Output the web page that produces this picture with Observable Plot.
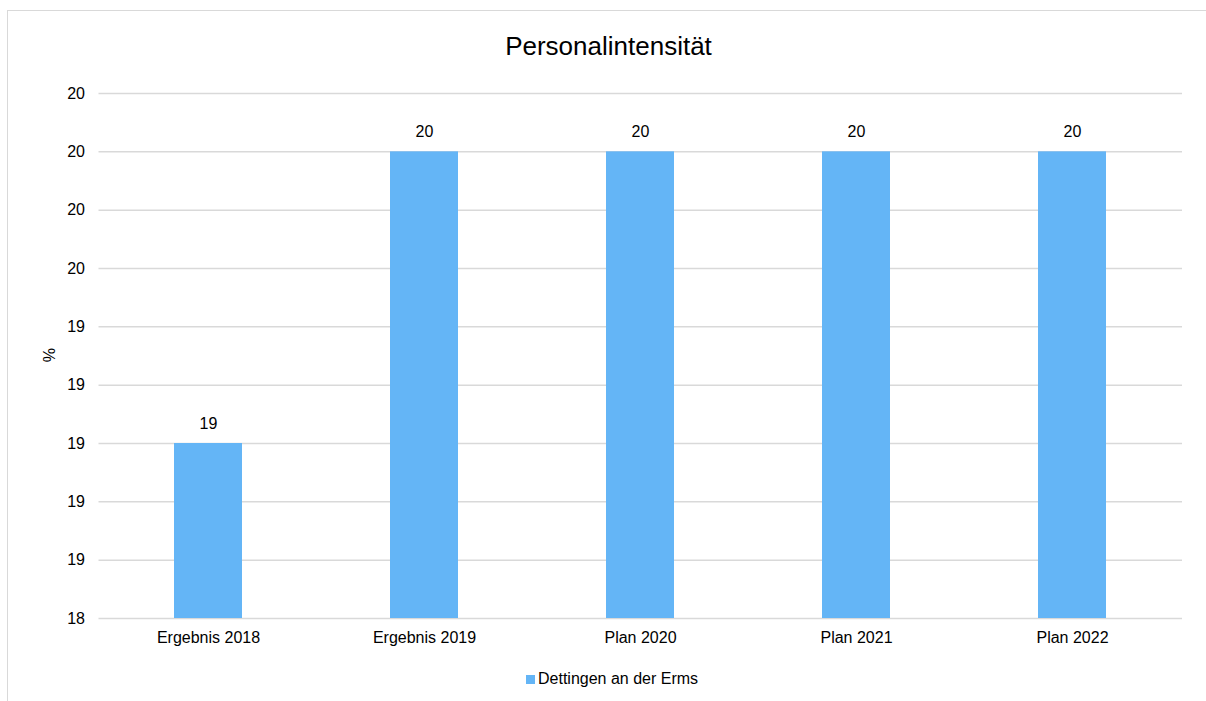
<!DOCTYPE html>
<html>
<head>
<meta charset="utf-8">
<script src="https://cdn.jsdelivr.net/npm/d3@7"></script>
<script src="https://cdn.jsdelivr.net/npm/@observablehq/plot@0.6"></script>
<style>
  html, body { margin: 0; padding: 0; background: #fff; overflow: hidden; }
  #wrap { position: relative; width: 1206px; height: 701px; overflow: hidden; font-family: "Liberation Sans", Arial, sans-serif; color: #000; }
  #hline { position: absolute; left: 7px; top: 10px; width: 1199px; height: 1px; background: #d9d9d9; }
  #vline { position: absolute; left: 7px; top: 10px; width: 1px; height: 691px; background: #d9d9d9; }
  #chart { position: absolute; left: 0; top: 0; }
  #title { position: absolute; left: 0; width: 1217px; top: 33px; text-align: center; font-size: 26px; line-height: 26px; }
  #ylabel { position: absolute; left: 40px; top: 347px; width: 20px; height: 16px; font-size: 16px; line-height: 16px; text-align: center; transform: rotate(-90deg); }
  #legend { position: absolute; top: 671px; left: 526px; height: 16px; font-size: 16px; line-height: 16px; white-space: nowrap; }
  #legend .sw { position: absolute; left: 0; top: 4px; width: 9px; height: 9px; }
  #legend .lt { position: absolute; left: 12px; top: 0; }
</style>
</head>
<body>
<div id="wrap">
  <div id="hline"></div>
  <div id="vline"></div>
  <div id="chart"></div>
  <div id="title"></div>
  <div id="ylabel"></div>
  <div id="legend"><span class="sw"></span><span class="lt"></span></div>
</div>
<script>
const categories = ["Ergebnis 2018", "Ergebnis 2019", "Plan 2020", "Plan 2021", "Plan 2022"];
const values = [19.0, 20.0, 20.0, 20.0, 20.0];
const yTicks = [18.4, 18.6, 18.8, 19.0, 19.2, 19.4, 19.6, 19.8, 20.0, 20.2];
const seriesName = "Dettingen an der Erms";
const titleText = "Personalintensität";
const yLabelText = "%";
const barColor = "#64b5f6";

const data = categories.map((c, i) => ({cat: c, value: values[i]}));
const yMin = yTicks[0], yMax = yTicks[yTicks.length - 1];
const fmt = d3.format(".0f");

const chart = Plot.plot({
  width: 1206,
  height: 701,
  marginLeft: 98.5,
  marginRight: 24,
  marginTop: 93,
  marginBottom: 83,
  style: {fontFamily: "'Liberation Sans', Arial, sans-serif", fontSize: "16px", color: "#000", background: "transparent"},
  x: {domain: categories, paddingInner: 0.686, paddingOuter: 0.343, label: null},
  y: {domain: [yMin, yMax], label: null},
  marks: [
    Plot.gridY(yTicks, {stroke: "#d9d9d9", strokeOpacity: 1, strokeWidth: 1.5}),
    Plot.barY(data, {x: "cat", y1: yMin, y2: "value", fill: barColor}),
    Plot.axisY(yTicks, {tickSize: 0, tickPadding: 14, tickFormat: d => fmt(d), label: null, fontSize: 16, fill: "#000"}),
    Plot.axisX({tickSize: 0, tickPadding: 13, label: null, fontSize: 16, fill: "#000"}),
    Plot.text(data, {x: "cat", y: "value", text: d => fmt(d.value), dy: -20, fontSize: 16, fill: "#000"})
  ]
});
document.getElementById("chart").appendChild(chart);
document.getElementById("title").textContent = titleText;
document.getElementById("ylabel").textContent = yLabelText;
document.querySelector("#legend .sw").style.background = barColor;
document.querySelector("#legend .lt").textContent = seriesName;
</script>
</body>
</html>
